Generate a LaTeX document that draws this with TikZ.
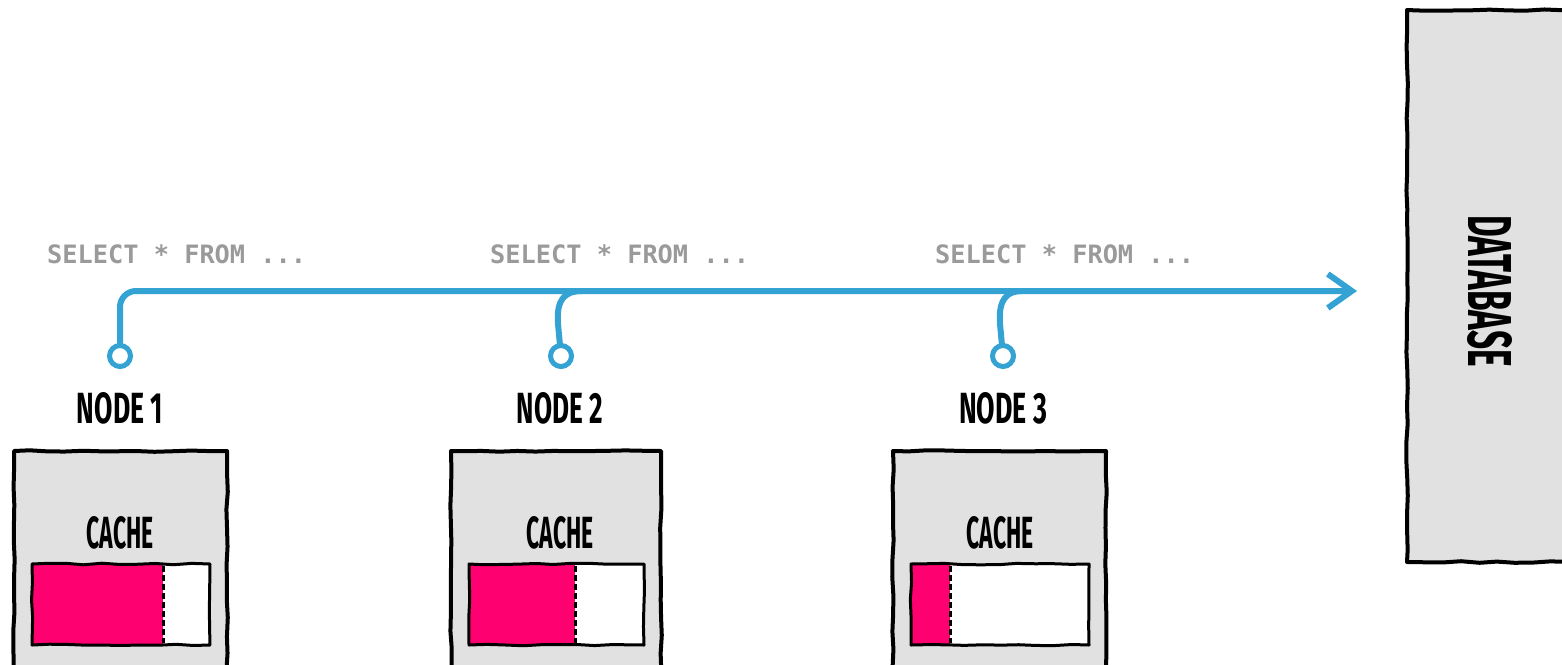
\documentclass[tikz,border=0pt]{standalone}
\usepackage{fontspec}
\usepackage{graphicx}
\usetikzlibrary{arrows.meta,decorations.pathmorphing,backgrounds}
\newfontfamily\handfont{Fira Sans}
\setmonofont{DejaVu Sans Mono}

\definecolor{wireblue}{HTML}{34A2D3}
\definecolor{hotpink}{HTML}{FF0070}
\definecolor{panelgray}{HTML}{E1E1E1}
\definecolor{querygray}{HTML}{9A9A9A}

\tikzset{
  sketch/.style={decorate,decoration={random steps,segment length=18pt,amplitude=0.8pt}},
  panel/.style={draw=black,fill=panelgray,line width=4pt,line join=round},
  wire/.style={draw=wireblue,line width=6pt,line cap=round,line join=round},
  port/.style={circle,draw=wireblue,fill=white,line width=5pt,
               minimum size=21pt,inner sep=0pt},
  query/.style={font=\ttfamily\bfseries\fontsize{25.3}{27}\selectfont,
                text=querygray,anchor=west,inner sep=0pt},
  label/.style={inner sep=0pt},
}

\newcommand{\handtext}[3]{\resizebox{#1}{#2}{\handfont\bfseries #3}}

\begin{document}
\begin{tikzpicture}[x=1pt,y=-1pt]
\pgfmathsetseed{7}
\useasboundingbox (0,0) rectangle (1562,664);

% database column on the right
\path[panel,sketch] (1407,10) rectangle (1580,562);
\node[label,rotate=-90] (db) at (1490,291) {\handtext{152pt}{44pt}{DATABASE}};

% cache panels
\foreach \i/\l/\r/\d in {1/14/227/163, 2/451/661/575, 3/893/1106/950}{
  \path[panel,sketch] (\l,451) rectangle (\r,690);
  \fill[hotpink] (\l+18,564) rectangle (\d,645);
  \fill[white] (\d,564) rectangle (\r-17,645);
  \draw[black,line width=3pt,dash pattern=on 6pt off 3pt] (\d,566) -- (\d,643);
  \draw[black,line width=3pt,line join=round,sketch] (\l+18,564) rectangle (\r-17,645);
}
\node[label] (cache1) at (120,533) {\handtext{67pt}{32pt}{CACHE}};
\node[label] (cache2) at (560,533) {\handtext{67pt}{32pt}{CACHE}};
\node[label] (cache3) at (1000,533) {\handtext{67pt}{32pt}{CACHE}};

% node names
\node[label] (n1) at (120,408) {\handtext{86pt}{31pt}{NODE 1}};
\node[label] (n2) at (560,408) {\handtext{86pt}{31pt}{NODE 2}};
\node[label] (n3) at (1003,408) {\handtext{88pt}{31pt}{NODE 3}};

% queries
\node[query] (q1) at (47,254) {SELECT * FROM ...};
\node[query] (q2) at (490,254) {SELECT * FROM ...};
\node[query] (q3) at (935,254) {SELECT * FROM ...};

% connection ports
\coordinate (tip) at (1357,291);
\coordinate (j2) at (582,291);
\coordinate (j3) at (1022,291);
\node[port] (p1) at (120,356) {};
\node[port] (p2) at (561,356) {};
\node[port] (p3) at (1003,356) {};

% shared query line to the database, drawn behind the ports
\begin{scope}[on background layer]
\draw[wire,rounded corners=16pt,-{Straight Barb[length=24pt,width=34pt,line width=6pt]}]
  (p1.center) |- (tip);
\draw[wire] (p2.center) -- (558,324) .. controls (556,298) and (566,291) .. (j2);
\draw[wire] (p3.center) -- (1000,324) .. controls (998,298) and (1008,291) .. (j3);
\end{scope}
\end{tikzpicture}
\end{document}
